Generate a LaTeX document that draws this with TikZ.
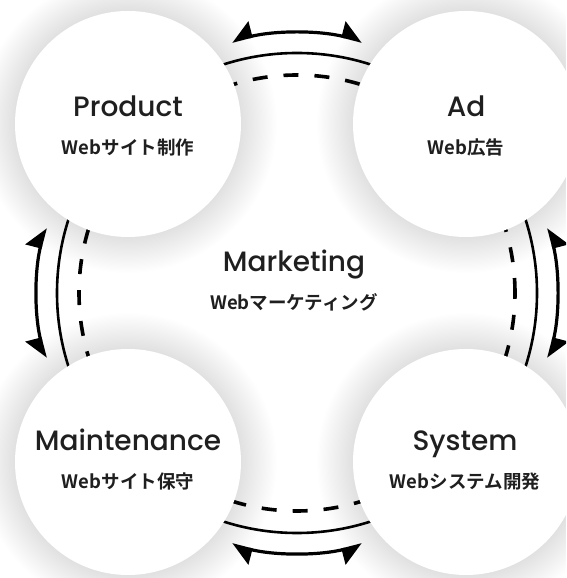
\documentclass[tikz,border=0pt]{standalone}
\usepackage{fontspec}
\newfontfamily\titlefont{Poppins}[UprightFont=* Medium]
\newfontfamily\jpfont{Noto Sans CJK JP Bold}
\usetikzlibrary{arrows.meta,positioning}
\tikzset{
  disc/.style    ={circle, minimum size=226pt, inner sep=0pt, fill=white},
  ttl/.style     ={anchor=base, inner sep=0pt, text=black!88,
    font=\titlefont\fontsize{28}{34}\selectfont},
  sub/.style     ={anchor=base, inner sep=0pt, text=black!88,
    font=\jpfont\fontsize{18.5}{22}\selectfont},
  solidring/.style={line width=2.6pt},
  dashring/.style ={line width=3.6pt, dash pattern=on 15pt off 16pt},
  flow/.style    ={line width=3.2pt,
    arrows={Triangle[harpoon,swap,length=19pt,width=30pt]-Triangle[harpoon,length=19pt,width=30pt]}}}

\begin{document}
\begin{tikzpicture}[x=1pt,y=1pt]
\useasboundingbox (0,0) rectangle (566,578);
\clip (0,0) rectangle (566,578);
\coordinate (mid)   at (297,285);
\coordinate (prod)  at (128,454);
\coordinate (ad)    at (466,454);
\coordinate (maint) at (128,116);
\coordinate (sys)   at (466,116);
% soft shadow round the circles
\foreach \c in {prod,ad,maint,sys}{
  \foreach \s in {1,...,30}
    \fill[black,opacity=.0032] (\c) circle[radius=113+1.2*\s];
}
% rings, the circles hide all but the gaps
\draw[solidring] (mid) circle[radius=240];
\draw[dashring]  (mid) circle[radius=218];
\foreach \a [evaluate={\s=\a+14.5; \e=\a-14.5;}] in {90,0,-90,180}
  \draw[flow] (mid) ++(\s:260) arc[start angle=\s, end angle=\e, radius=260];
\foreach \c in {prod,ad,maint,sys}
  \node[disc] (\c-disc) at (\c) {};
% texts
\node[ttl] (prod-ttl)  at (128,461)   {Product};
\node[sub] (prod-sub)  at (128,423.5) {Webサイト制作};
\node[ttl] (ad-ttl)    at (466,461)   {Ad};
\node[sub] (ad-sub)    at (466,423.5) {Web広告};
\node[ttl] (mkt-ttl)   at (294,306.5) {Marketing};
\node[sub] (mkt-sub)   at (294,268)   {Webマーケティング};
\node[ttl] (maint-ttl) at (128,127.5) {Maintenance};
\node[sub] (maint-sub) at (128,89)    {Webサイト保守};
\node[ttl] (sys-ttl)   at (465,127.5) {System};
\node[sub] (sys-sub)   at (465,89)    {Webシステム開発};
\end{tikzpicture}
\end{document}
